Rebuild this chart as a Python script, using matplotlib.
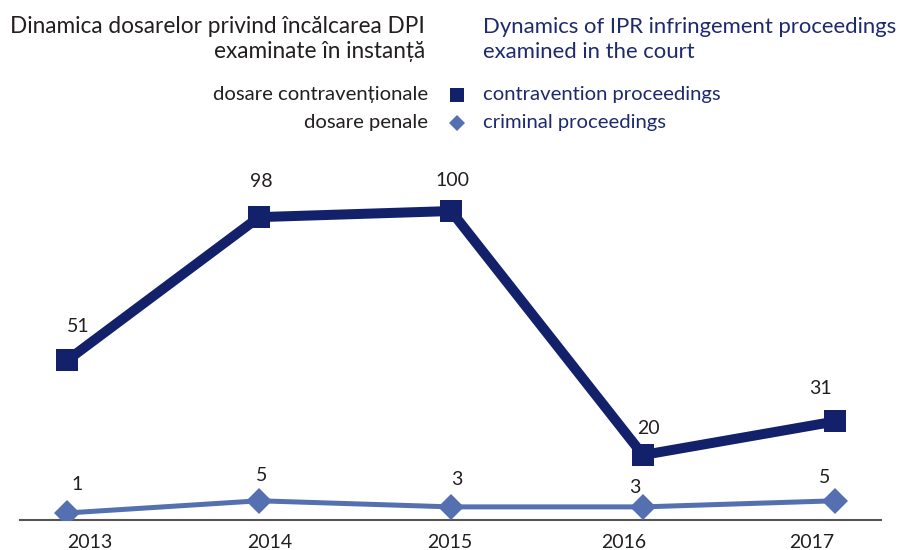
import matplotlib
matplotlib.use("Agg")
import matplotlib.pyplot as plt
from matplotlib.lines import Line2D

years = ["2013", "2014", "2015", "2016", "2017"]
contraventional = [51, 98, 100, 20, 31]
penal = [1, 5, 3, 3, 5]

title_ro = ["Dinamica dosarelor privind încălcarea DPI", "examinate în instanță"]
title_en = ["Dynamics of IPR infringement proceedings", "examined in the court"]
legend_ro = ["dosare contravenționale", "dosare penale"]
legend_en = ["contravention proceedings", "criminal proceedings"]

NAVY = "#13216a"
LIGHT = "#5470b0"
DARK = "#231f20"
TNAVY = "#1f2a6e"

plt.rcParams['font.family'] = ['Lato', 'DejaVu Sans']

W, H = 911, 550
fig = plt.figure(figsize=(W / 100, H / 100), dpi=100)

# axes geometry in pixels
ax_left, ax_right = 20, 881
ax_bottom_px = 520
ymin, ymax = -1.3, 110
ppu = 3.05
ax_h = (ymax - ymin) * ppu
ax = fig.add_axes([ax_left / W, (H - ax_bottom_px) / H, (ax_right - ax_left) / W, ax_h / H])
x = list(range(len(years)))
xl = -(67 - ax_left) / 192
xr = 4 + (ax_right - 835) / 192
ax.set_xlim(xl, xr)
ax.set_ylim(ymin, ymax)

ax.plot(x, penal, color=LIGHT, lw=3.6, marker='D', markersize=13.5,
        markeredgewidth=0, solid_joinstyle='miter', zorder=3)
ax.plot(x, contraventional, color=NAVY, lw=7.2, marker='s', markersize=16.5,
        markeredgewidth=0, solid_joinstyle='miter', zorder=4)

# label offsets in pixels (dx, dy)
c_off = [(11, 34), (2, 36), (1, 31), (5, 27), (-15, 33)]
p_off = [(10, 28), (3, 25), (6, 27), (-8, 19), (-10, 23)]
for i, v in enumerate(contraventional):
    ax.annotate(str(v), (x[i], v), xytext=c_off[i], textcoords='offset pixels',
                ha='center', va='center', fontsize=14, color=DARK, zorder=5)
for i, v in enumerate(penal):
    ax.annotate(str(v), (x[i], v), xytext=p_off[i], textcoords='offset pixels',
                ha='center', va='center', fontsize=14, color=DARK, zorder=5)

for s in ['top', 'right', 'left']:
    ax.spines[s].set_visible(False)
ax.spines['bottom'].set_color('#555555')
ax.spines['bottom'].set_linewidth(1.5)
ax.set_yticks([])
ax.set_xticks([])
ax.patch.set_alpha(0)

# year labels (shifted as in the reference)
yr_dx = [23, 11, -1, -19, -23]
for i, yl in enumerate(years):
    ax.annotate(yl, (x[i], 0), xycoords=('data', 'axes fraction'),
                xytext=(yr_dx[i], -28), textcoords='offset pixels',
                ha='center', va='baseline', fontsize=14, color=DARK)

def fx(px):
    return px / W

def fy(py):
    return 1 - py / H

fig.text(fx(425), fy(33), title_ro[0], ha='right', va='baseline', fontsize=16.3, color=DARK)
fig.text(fx(425), fy(58), title_ro[1], ha='right', va='baseline', fontsize=16.3, color=DARK)
fig.text(fx(483), fy(33), title_en[0], ha='left', va='baseline', fontsize=15.9, color=TNAVY)
fig.text(fx(483), fy(58), title_en[1], ha='left', va='baseline', fontsize=15.9, color=TNAVY)

fig.text(fx(428), fy(100), legend_ro[0], ha='right', va='baseline', fontsize=14.6, color=DARK)
fig.text(fx(428), fy(128), legend_ro[1], ha='right', va='baseline', fontsize=14.6, color=DARK)
fig.text(fx(483), fy(100), legend_en[0], ha='left', va='baseline', fontsize=14.6, color=TNAVY)
fig.text(fx(483), fy(128), legend_en[1], ha='left', va='baseline', fontsize=14.6, color=TNAVY)

fig.add_artist(Line2D([fx(457)], [fy(95)], marker='s', markersize=10.5, color=NAVY,
                      markeredgewidth=0, transform=fig.transFigure))
fig.add_artist(Line2D([fx(457)], [fy(123)], marker='D', markersize=8.5, color=LIGHT,
                      markeredgewidth=0, transform=fig.transFigure))

fig.savefig("out.png", dpi=100)
